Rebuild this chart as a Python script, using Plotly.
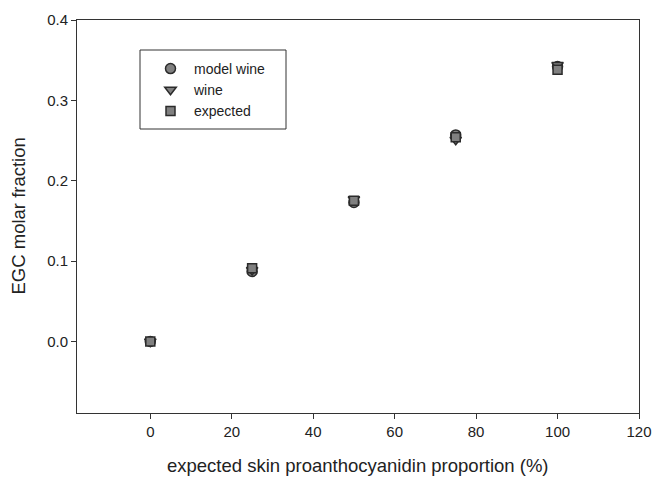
import plotly.graph_objects as go

proportion = [0, 25, 50, 75, 100]
model_wine = [0.0, 0.087, 0.173, 0.257, 0.342]
wine = [0.0, 0.089, 0.177, 0.251, 0.344]
expected = [0.0, 0.091, 0.175, 0.254, 0.338]

x_ticks = [0, 20, 40, 60, 80, 100, 120]
y_ticks = [0.0, 0.1, 0.2, 0.3, 0.4]
y_tick_labels = ["0.0", "0.1", "0.2", "0.3", "0.4"]

x_title = "expected skin proanthocyanidin proportion (%)"
y_title = "EGC molar fraction"

FONT = "Liberation Sans, Arial, sans-serif"
FILL = "#808080"
EDGE = "#2b2b2b"
TXT = "#222222"

fig = go.Figure()
fig.add_trace(go.Scatter(x=proportion, y=model_wine, mode="markers", name="model wine",
                         marker=dict(symbol="circle", size=10, color=FILL,
                                     line=dict(color=EDGE, width=1.5))))
fig.add_trace(go.Scatter(x=proportion, y=wine, mode="markers", name="wine",
                         marker=dict(symbol="triangle-down", size=10, color=FILL,
                                     line=dict(color=EDGE, width=1.5))))
fig.add_trace(go.Scatter(x=proportion, y=expected, mode="markers", name="expected",
                         marker=dict(symbol="square", size=9, color=FILL,
                                     line=dict(color=EDGE, width=1.5))))

axis_common = dict(showgrid=False, zeroline=False, showline=True, linecolor="#333333",
                   linewidth=1, mirror=True, ticks="outside", ticklen=5, tickwidth=1,
                   tickcolor="#333333", tickfont=dict(family=FONT, size=15, color=TXT),
                   automargin=False)

fig.update_xaxes(range=[-18, 120], tickvals=x_ticks, **axis_common)
fig.update_yaxes(range=[-0.089, 0.4], tickvals=y_ticks, ticktext=y_tick_labels, **axis_common)

fig.add_annotation(text=x_title, xref="paper", yref="paper", x=0.5, y=0,
                   xanchor="center", yanchor="middle", yshift=-52, showarrow=False,
                   font=dict(family=FONT, size=18.5, color=TXT))
fig.add_annotation(text=y_title, xref="paper", yref="paper", x=0, y=0.5,
                   xanchor="center", yanchor="middle", xshift=-59, textangle=-90,
                   showarrow=False, font=dict(family=FONT, size=18.5, color=TXT))

fig.add_shape(type="rect", xref="paper", yref="paper",
              x0=(140 - 77) / 562, x1=(286 - 77) / 562,
              y0=(413 - 129) / 393, y1=(413 - 50) / 393,
              line=dict(color="#333333", width=1), fillcolor="rgba(0,0,0,0)")

fig.update_layout(
    width=652, height=480,
    margin=dict(l=77, r=13, t=20, b=67),
    paper_bgcolor="white", plot_bgcolor="white",
    showlegend=True,
    legend=dict(x=(147 - 77) / 562, y=(413 - 53) / 393, xanchor="left", yanchor="top",
                bgcolor="rgba(0,0,0,0)", borderwidth=0, itemwidth=37,
                font=dict(family=FONT, size=14, color=TXT), tracegroupgap=0),
    font=dict(family=FONT),
)

fig.write_html("out.html", config={"displayModeBar": False},
               post_script="document.body.style.margin='0';document.body.style.overflow='hidden';")
